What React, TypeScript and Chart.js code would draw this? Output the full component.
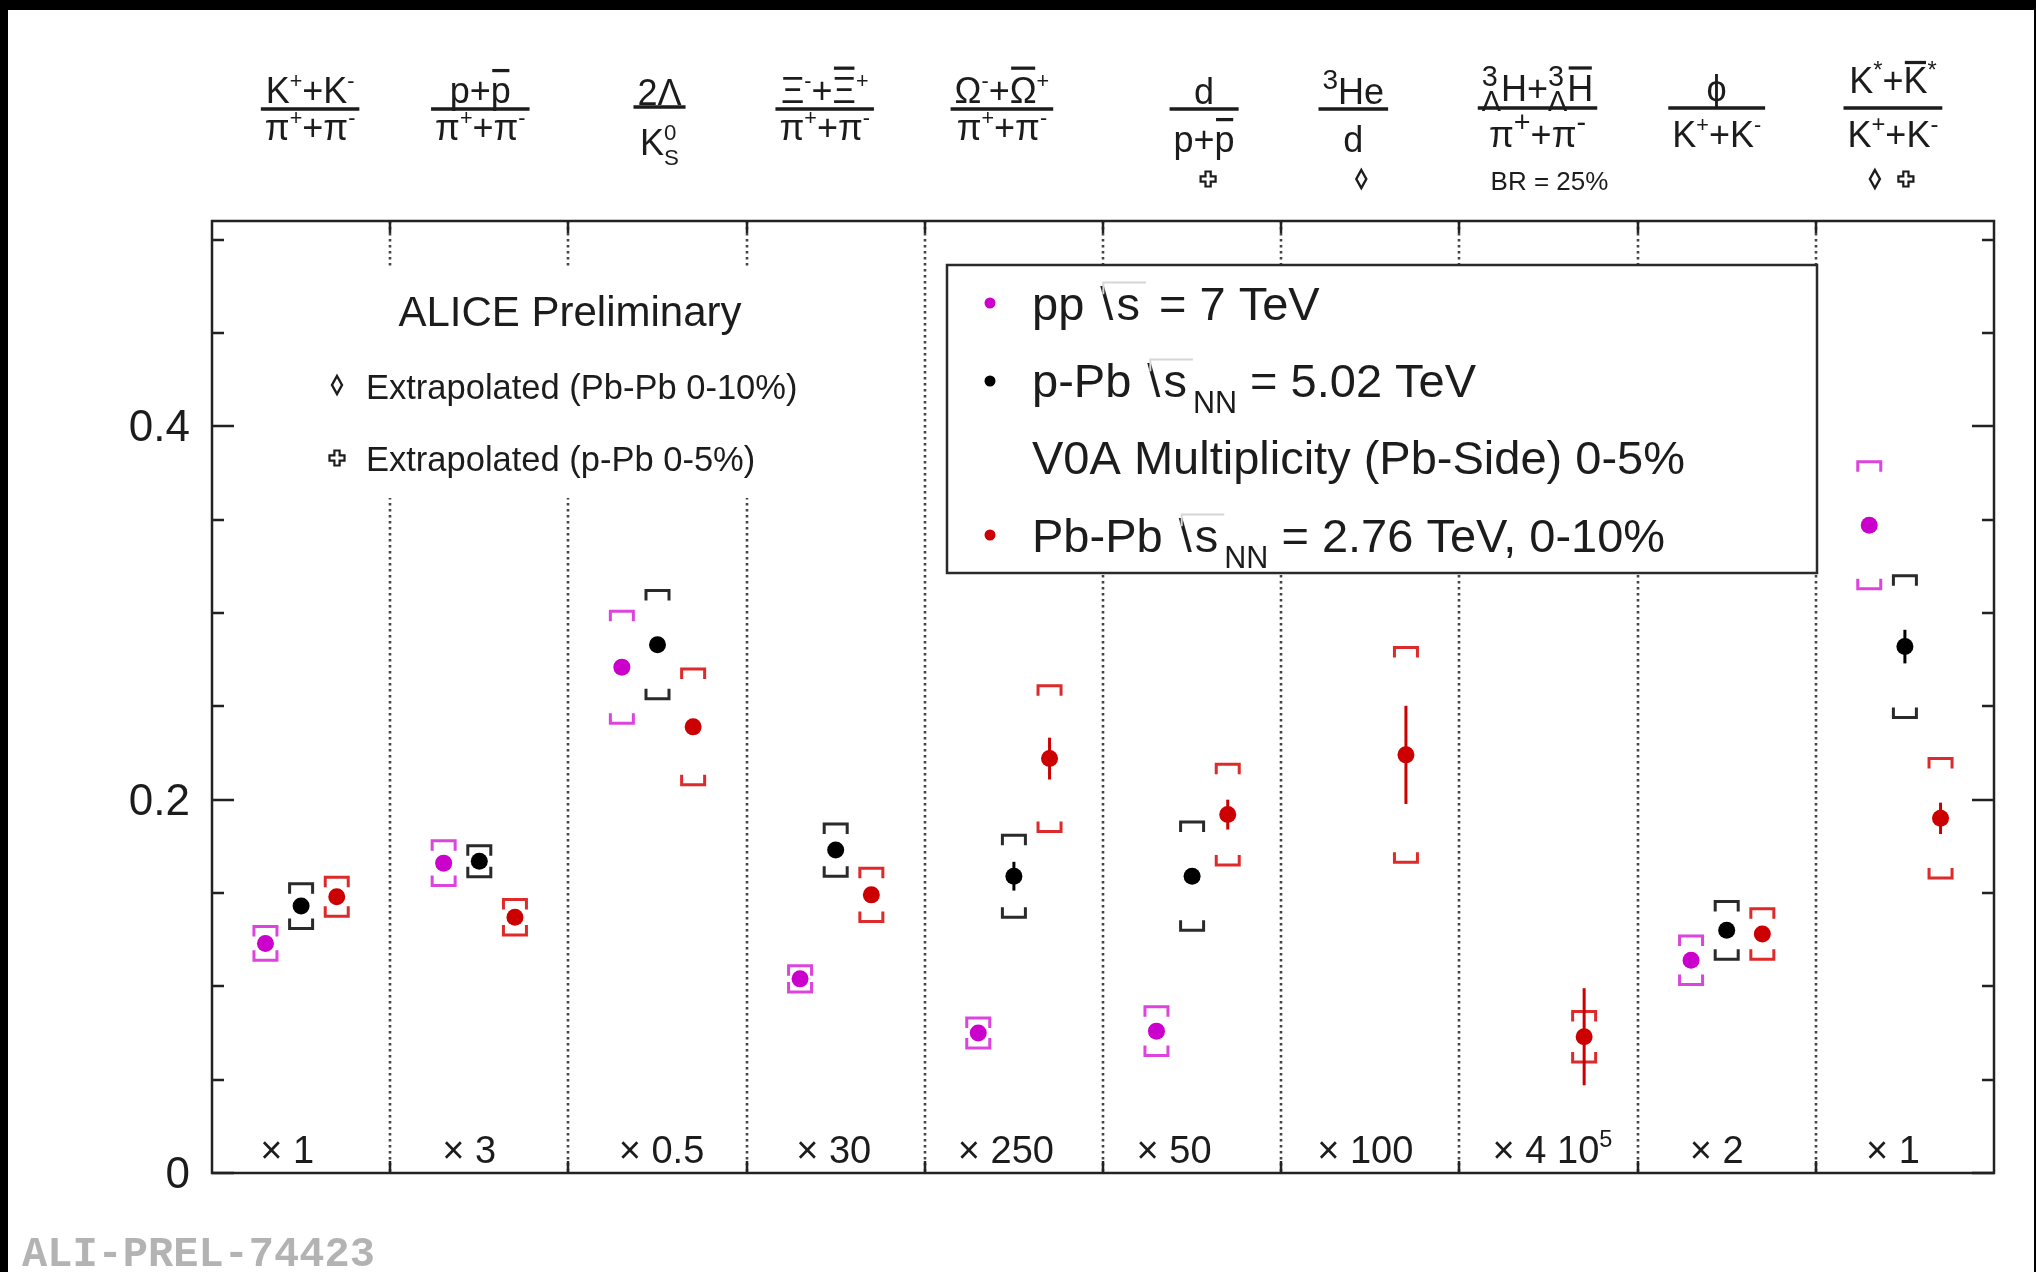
import React, { useEffect, useRef } from 'react';
import { Chart, registerables } from 'chart.js';

Chart.register(...registerables);

const CANVAS_W = 2036;
const CANVAS_H = 1272;

// Particle ratios shown in each column (ROOT-like markup: ^{} sup, _{} sub, #bar{} overline)
const ratioNumerators = ['K^{+}+K^{-}', 'p+#bar{p}', '2Λ', 'Ξ^{-}+#bar{Ξ}^{+}', 'Ω^{-}+#bar{Ω}^{+}', 'd', '^{3}He', '^{3}_{Λ}H+^{3}_{Λ}#bar{H}', 'ϕ', 'K^{*}+#bar{K}^{*}'];
const ratioDenominators = ['π^{+}+π^{-}', 'π^{+}+π^{-}', 'K^{0}_{S}', 'π^{+}+π^{-}', 'π^{+}+π^{-}', 'p+#bar{p}', 'd', 'π^{+}+π^{-}', 'K^{+}+K^{-}', 'K^{+}+K^{-}'];
const ratioNotes = ['', '', '', '', '', '', '', 'BR = 25%', '', ''];
// extrapolation flags per column: 'D' = from Pb-Pb 0-10%, 'C' = from p-Pb 0-5%
const extrapolationFlags = ['', '', '', '', '', 'C', 'D', '', '', 'DC'];
const scaleFactors = ['× 1', '× 3', '× 0.5', '× 30', '× 250', '× 50', '× 100', '× 4 10^{5}', '× 2', '× 1'];

// y axis
const yMin = 0;
const yMax = 0.51;
const yTickLabels = ['0', '0.2', '0.4'];

// pp √s = 7 TeV
const ppValues = [0.123, 0.166, 0.271, 0.104, 0.075, 0.076, null, null, 0.114, 0.347];
const ppStat = [0.002, 0.002, 0.003, 0.002, 0.002, 0.002, null, null, 0.002, 0.004];
const ppSyst = [0.009, 0.012, 0.030, 0.007, 0.008, 0.013, null, null, 0.013, 0.034];

// p-Pb √sNN = 5.02 TeV, V0A 0-5%
const pPbValues = [0.143, 0.167, 0.283, 0.173, 0.159, 0.159, null, null, 0.130, 0.282];
const pPbStat = [0.002, 0.002, 0.003, 0.003, 0.0077, 0.004, null, null, 0.003, 0.009];
const pPbSyst = [0.012, 0.0083, 0.029, 0.014, 0.022, 0.029, null, null, 0.0155, 0.038];

// Pb-Pb √sNN = 2.76 TeV, 0-10%
const PbPbValues = [0.148, 0.137, 0.239, 0.149, 0.222, 0.192, 0.224, 0.073, 0.128, 0.190];
const PbPbStat = [0.002, 0.002, 0.003, 0.003, 0.0112, 0.008, 0.0263, 0.026, 0.003, 0.0084];
const PbPbSyst = [0.0105, 0.0095, 0.031, 0.0143, 0.039, 0.027, 0.0575, 0.0135, 0.0135, 0.032];

const legendLabels = ['pp #sqrt{s} = 7 TeV', 'p-Pb #sqrt{s}_{NN} = 5.02 TeV', 'V0A Multiplicity (Pb-Side) 0-5%', 'Pb-Pb #sqrt{s}_{NN} = 2.76 TeV, 0-10%'];

// ---- styling ----
const SERIES = [
  { label: 'pp', values: ppValues, stat: ppStat, syst: ppSyst, color: '#cc00cc', bracket: '#dd44dd', offset: -0.2 },
  { label: 'p-Pb', values: pPbValues, stat: pPbStat, syst: pPbSyst, color: '#000000', bracket: '#2a2a2a', offset: 0 },
  { label: 'Pb-Pb', values: PbPbValues, stat: PbPbStat, syst: PbPbSyst, color: '#cc0000', bracket: '#dd2a2a', offset: 0.2 },
];
const legendColors = ['#cc00cc', '#000000', null, '#cc0000'];

const headerLayout = [
  { dx: 9, num: 103, bar: 109, den: 140, script: 0.6, gap: 0.2 },
  { dx: 1, num: 103, bar: 109, den: 140, script: 0.6, gap: 0.3 },
  { dx: 2, num: 105, bar: 107, den: 155, script: 0.62, gap: 0.2 },
  { dx: -11, num: 103, bar: 109, den: 140, script: 0.6, gap: 0.2 },
  { dx: -12, num: 103, bar: 109, den: 140, script: 0.6, gap: 0.2 },
  { dx: 12, num: 104, bar: 109, den: 152, script: 0.6, gap: 0.3 },
  { dx: -17, num: 104, bar: 109, den: 152, script: 0.78, gap: 0.2 },
  { dx: -11, num: 101, bar: 108, den: 147, script: 0.8, gap: 0.15 },
  { dx: -10, num: 101, bar: 108, den: 147, script: 0.6, gap: 0.2 },
  { dx: -12, num: 93, bar: 108, den: 147, script: 0.66, gap: 0.08 },
];
const flagDx: Record<string, number[]> = { C: [4], D: [8], DC: [-18, 13] };
const factorDx = [-14, -10, 4, -2, -8, -18, -5, 4, -10, -12];

const INK = '#1c1c1c';
const FONT = '"Liberation Sans", Arial, Helvetica, sans-serif';

type Run = { text: string; mode: 'n' | 'sup' | 'sub'; bar?: boolean; sqrt?: boolean };

function parseMarkup(s: string): Run[] {
  const runs: Run[] = [];
  let buf = '';
  let i = 0;
  const flush = () => {
    if (buf) {
      runs.push({ text: buf, mode: 'n' });
      buf = '';
    }
  };
  const tags = ['^{', '_{', '#bar{', '#sqrt{'];
  while (i < s.length) {
    const tag = tags.find((t) => s.startsWith(t, i));
    if (!tag) {
      buf += s[i++];
      continue;
    }
    flush();
    const start = i + tag.length;
    const end = s.indexOf('}', start);
    const inner = s.slice(start, end);
    if (tag === '^{') runs.push({ text: inner, mode: 'sup' });
    else if (tag === '_{') runs.push({ text: inner, mode: 'sub' });
    else if (tag === '#bar{') runs.push({ text: inner, mode: 'n', bar: true });
    else runs.push({ text: inner, mode: 'n', sqrt: true });
    i = end + 1;
  }
  flush();
  return runs;
}

type TextOpts = {
  size: number;
  color?: string;
  scriptScale?: number;
  supRise?: number;
  subDrop?: number;
  align?: 'left' | 'center' | 'right';
  sqrtPad?: number;
  barGap?: number;
};

function fontOf(px: number) {
  return `${px}px ${FONT}`;
}

function drawRich(ctx: CanvasRenderingContext2D, s: string, x: number, y: number, o: TextOpts, measureOnly = false): number {
  const runs = parseMarkup(s);
  const small = o.size * (o.scriptScale ?? 0.62);
  const pad = o.sqrtPad ?? 0;
  const items: { run: Run; x: number; w: number; lead: number }[] = [];
  let cursor = 0;
  for (const run of runs) {
    const px = run.mode === 'n' ? o.size : small;
    ctx.font = fontOf(px);
    const lead = run.sqrt ? ctx.measureText('\\').width + pad : 0;
    const w = lead + ctx.measureText(run.text).width + (run.sqrt ? pad : 0);
    const prev = items[items.length - 1];
    if (run.mode === 'sub' && prev && prev.run.mode === 'sup') {
      items.push({ run, x: prev.x, w, lead });
      cursor = prev.x + Math.max(prev.w, w);
    } else {
      items.push({ run, x: cursor, w, lead });
      cursor += w;
    }
  }
  const total = cursor;
  if (measureOnly) return total;
  const align = o.align ?? 'left';
  const x0 = align === 'center' ? x - total / 2 : align === 'right' ? x - total : x;
  ctx.save();
  ctx.textAlign = 'left';
  ctx.textBaseline = 'alphabetic';
  const color = o.color ?? INK;
  ctx.fillStyle = color;
  for (const it of items) {
    const r = it.run;
    const px = r.mode === 'n' ? o.size : small;
    ctx.font = fontOf(px);
    const yy = r.mode === 'sup' ? y - o.size * (o.supRise ?? 0.4) : r.mode === 'sub' ? y + o.size * (o.subDrop ?? 0.28) : y;
    const xx = x0 + it.x;
    if (r.sqrt) {
      ctx.fillText('\\', xx + pad * 0.5, yy);
      ctx.fillText(r.text, xx + it.lead, yy);
      const top = yy - o.size * 0.8;
      ctx.save();
      ctx.strokeStyle = '#d6d6d6';
      ctx.lineWidth = 2;
      ctx.beginPath();
      ctx.moveTo(xx + pad * 0.5 + 3, yy - o.size * 0.55);
      ctx.lineTo(xx + pad * 0.5 + 3, top);
      ctx.lineTo(xx + it.w, top);
      ctx.stroke();
      ctx.restore();
    } else {
      ctx.fillText(r.text, xx, yy);
    }
    if (r.bar) {
      const m = ctx.measureText(r.text);
      const by = yy - m.actualBoundingBoxAscent - px * (o.barGap ?? 0.2);
      ctx.fillRect(xx + px * 0.04, by - px * 0.09, it.w - px * 0.08, px * 0.09);
    }
  }
  ctx.restore();
  return total;
}

function drawDiamond(ctx: CanvasRenderingContext2D, cx: number, cy: number) {
  ctx.save();
  ctx.strokeStyle = INK;
  ctx.lineWidth = 2.4;
  ctx.beginPath();
  ctx.moveTo(cx, cy - 9);
  ctx.lineTo(cx + 5, cy);
  ctx.lineTo(cx, cy + 9);
  ctx.lineTo(cx - 5, cy);
  ctx.closePath();
  ctx.stroke();
  ctx.restore();
}

function drawCross(ctx: CanvasRenderingContext2D, cx: number, cy: number) {
  const a = 7.5;
  const b = 2.6;
  ctx.save();
  ctx.strokeStyle = INK;
  ctx.lineWidth = 2.2;
  ctx.beginPath();
  ctx.moveTo(cx - b, cy - a);
  ctx.lineTo(cx + b, cy - a);
  ctx.lineTo(cx + b, cy - b);
  ctx.lineTo(cx + a, cy - b);
  ctx.lineTo(cx + a, cy + b);
  ctx.lineTo(cx + b, cy + b);
  ctx.lineTo(cx + b, cy + a);
  ctx.lineTo(cx - b, cy + a);
  ctx.lineTo(cx - b, cy + b);
  ctx.lineTo(cx - a, cy + b);
  ctx.lineTo(cx - a, cy - b);
  ctx.lineTo(cx - b, cy - b);
  ctx.closePath();
  ctx.stroke();
  ctx.restore();
}

const decorPlugin = {
  id: 'ratioDecor',
  beforeDraw(chart: any) {
    const ctx: CanvasRenderingContext2D = chart.ctx;
    const { left, right, top, bottom } = chart.chartArea;
    const xs = chart.scales.x;
    const ys = chart.scales.y;
    ctx.save();
    // page frame
    ctx.fillStyle = '#000';
    ctx.fillRect(0, 0, CANVAS_W, CANVAS_H);
    ctx.fillStyle = '#fff';
    ctx.fillRect(8, 10, CANVAS_W - 10, CANVAS_H - 10);

    // dotted column separators
    ctx.strokeStyle = '#444';
    ctx.lineWidth = 2.6;
    ctx.setLineDash([2.6, 3.4]);
    for (let k = 1; k < ratioNumerators.length; k++) {
      const px = Math.round(xs.getPixelForValue(k));
      ctx.beginPath();
      ctx.moveTo(px, top);
      ctx.lineTo(px, bottom);
      ctx.stroke();
    }
    ctx.setLineDash([]);

    // text pad behind the experiment label
    ctx.fillStyle = '#fff';
    ctx.fillRect(300, 267, 580, 231);
    ctx.fillStyle = INK;
    ctx.font = fontOf(42);
    ctx.textAlign = 'center';
    ctx.textBaseline = 'alphabetic';
    ctx.fillText('ALICE Preliminary', 570, 326);
    ctx.font = fontOf(34.5);
    ctx.textAlign = 'left';
    ctx.fillText('Extrapolated (Pb-Pb 0-10%)', 366, 399);
    ctx.fillText('Extrapolated (p-Pb 0-5%)', 366, 471);
    drawDiamond(ctx, 337, 385);
    drawCross(ctx, 337, 458);

    // legend box
    ctx.fillStyle = '#fff';
    ctx.fillRect(947, 265, 870, 308);
    ctx.strokeStyle = '#2a2a2a';
    ctx.lineWidth = 2.5;
    ctx.strokeRect(947, 265, 870, 308);
    const legendBase = [320, 397, 474, 552];
    const legendDot = [303, 381, 0, 535];
    legendLabels.forEach((lab, k) => {
      const c = legendColors[k];
      if (c) {
        ctx.fillStyle = c;
        ctx.beginPath();
        ctx.arc(990, legendDot[k], 5.5, 0, Math.PI * 2);
        ctx.fill();
      }
      drawRich(ctx, lab, 1032, legendBase[k], { size: 47, scriptScale: 0.65, subDrop: 0.33, sqrtPad: 6 });
    });

    // plot frame
    ctx.strokeStyle = '#222';
    ctx.lineWidth = 2.5;
    ctx.strokeRect(left, top, right - left, bottom - top);

    // column ticks on top and bottom edges
    ctx.lineWidth = 2.5;
    for (let k = 1; k < ratioNumerators.length; k++) {
      const px = Math.round(xs.getPixelForValue(k));
      ctx.beginPath();
      ctx.moveTo(px, top);
      ctx.lineTo(px, top + 12);
      ctx.moveTo(px, bottom);
      ctx.lineTo(px, bottom - 12);
      ctx.stroke();
    }

    // y ticks (inward, both sides)
    for (let k = 0; k <= 10; k++) {
      const v = k * 0.05;
      const py = Math.round(ys.getPixelForValue(v));
      const len = k % 4 === 0 ? 22 : 12;
      ctx.beginPath();
      ctx.moveTo(left, py);
      ctx.lineTo(left + len, py);
      ctx.moveTo(right, py);
      ctx.lineTo(right - len, py);
      ctx.stroke();
    }
    ctx.fillStyle = INK;
    ctx.font = fontOf(44);
    ctx.textAlign = 'right';
    ctx.textBaseline = 'middle';
    yTickLabels.forEach((t) => {
      ctx.fillText(t, left - 22, ys.getPixelForValue(parseFloat(t)) + 3);
    });

    // column headers
    ratioNumerators.forEach((num, k) => {
      const L = headerLayout[k];
      const cx = xs.getPixelForValue(k + 0.5) + L.dx;
      const o: TextOpts = { size: 36, align: 'center', supRise: 0.42, subDrop: 0.28, scriptScale: L.script, barGap: L.gap };
      const wn = drawRich(ctx, num, cx, L.num, o, true);
      const wd = drawRich(ctx, ratioDenominators[k], cx, L.den, o, true);
      const bw = Math.max(wn, wd) + 8;
      ctx.fillStyle = INK;
      ctx.fillRect(cx - bw / 2, L.bar - 1.75, bw, 3.5);
      drawRich(ctx, num, cx, L.num, o);
      drawRich(ctx, ratioDenominators[k], cx, L.den, o);
      if (ratioNotes[k]) {
        ctx.fillStyle = INK;
        ctx.font = fontOf(26);
        ctx.textAlign = 'center';
        ctx.textBaseline = 'alphabetic';
        ctx.fillText(ratioNotes[k], cx + 12, 190);
      }
      const flags = extrapolationFlags[k];
      if (flags) {
        const dxs = flagDx[flags];
        flags.split('').forEach((f, j) => {
          if (f === 'D') drawDiamond(ctx, cx + dxs[j], 179);
          else drawCross(ctx, cx + dxs[j], 179);
        });
      }
    });

    // scale factors along the bottom
    scaleFactors.forEach((s, k) => {
      const cx = xs.getPixelForValue(k + 0.5) + factorDx[k];
      drawRich(ctx, s, cx, 1163, { size: 38, align: 'center', supRise: 0.42 });
    });

    // figure id
    ctx.fillStyle = '#b3b3b3';
    ctx.font = `bold 42px "Liberation Mono", "DejaVu Sans Mono", monospace`;
    ctx.textAlign = 'left';
    ctx.textBaseline = 'alphabetic';
    ctx.fillText('ALI-PREL-74423', 22, 1266);
    ctx.restore();
  },
  beforeDatasetsDraw(chart: any) {
    const ctx: CanvasRenderingContext2D = chart.ctx;
    const xs = chart.scales.x;
    const ys = chart.scales.y;
    ctx.save();
    ctx.lineCap = 'butt';
    ctx.lineJoin = 'miter';
    SERIES.forEach((s) => {
      s.values.forEach((v, k) => {
        if (v == null) return;
        const px = xs.getPixelForValue(k + 0.5 + s.offset);
        const sy = s.syst[k] as number;
        const st = s.stat[k] as number;
        // systematic brackets
        const yTop = ys.getPixelForValue(v + sy);
        const yBot = ys.getPixelForValue(v - sy);
        const w = 23;
        const h = 10;
        ctx.strokeStyle = s.bracket;
        ctx.lineWidth = 3;
        ctx.beginPath();
        ctx.moveTo(px - w / 2, yTop + h);
        ctx.lineTo(px - w / 2, yTop);
        ctx.lineTo(px + w / 2, yTop);
        ctx.lineTo(px + w / 2, yTop + h);
        ctx.moveTo(px - w / 2, yBot - h);
        ctx.lineTo(px - w / 2, yBot);
        ctx.lineTo(px + w / 2, yBot);
        ctx.lineTo(px + w / 2, yBot - h);
        ctx.stroke();
        // statistical error bar
        ctx.strokeStyle = s.color;
        ctx.lineWidth = 3;
        ctx.beginPath();
        ctx.moveTo(px, ys.getPixelForValue(v + st));
        ctx.lineTo(px, ys.getPixelForValue(v - st));
        ctx.stroke();
      });
    });
    ctx.restore();
  },
};

export default function App() {
  const canvasRef = useRef<HTMLCanvasElement | null>(null);

  useEffect(() => {
    const canvas = canvasRef.current;
    if (!canvas) return;
    const datasets = SERIES.map((s) => ({
      label: s.label,
      data: s.values
        .map((v, k) => (v == null ? null : { x: k + 0.5 + s.offset, y: v }))
        .filter((p) => p !== null) as { x: number; y: number }[],
      backgroundColor: s.color,
      borderColor: s.color,
      pointRadius: 8.5,
      pointHoverRadius: 8.5,
      pointBorderWidth: 0,
      showLine: false,
    }));
    const chart = new Chart(canvas, {
      type: 'scatter',
      data: { datasets },
      options: {
        animation: false,
        responsive: false,
        devicePixelRatio: 1,
        layout: { padding: { left: 212, top: 221, right: CANVAS_W - 1994, bottom: CANVAS_H - 1173 } },
        scales: {
          x: { type: 'linear', min: 0, max: ratioNumerators.length, display: false },
          y: { type: 'linear', min: yMin, max: yMax, display: false },
        },
        plugins: { legend: { display: false }, tooltip: { enabled: false } },
        events: [],
      },
      plugins: [decorPlugin],
    });
    return () => chart.destroy();
  }, []);

  return (
    <div style={{ position: 'absolute', left: 0, top: 0, width: CANVAS_W, height: CANVAS_H, background: '#000' }}>
      <canvas ref={canvasRef} width={CANVAS_W} height={CANVAS_H} style={{ display: 'block', width: CANVAS_W, height: CANVAS_H }} />
    </div>
  );
}
